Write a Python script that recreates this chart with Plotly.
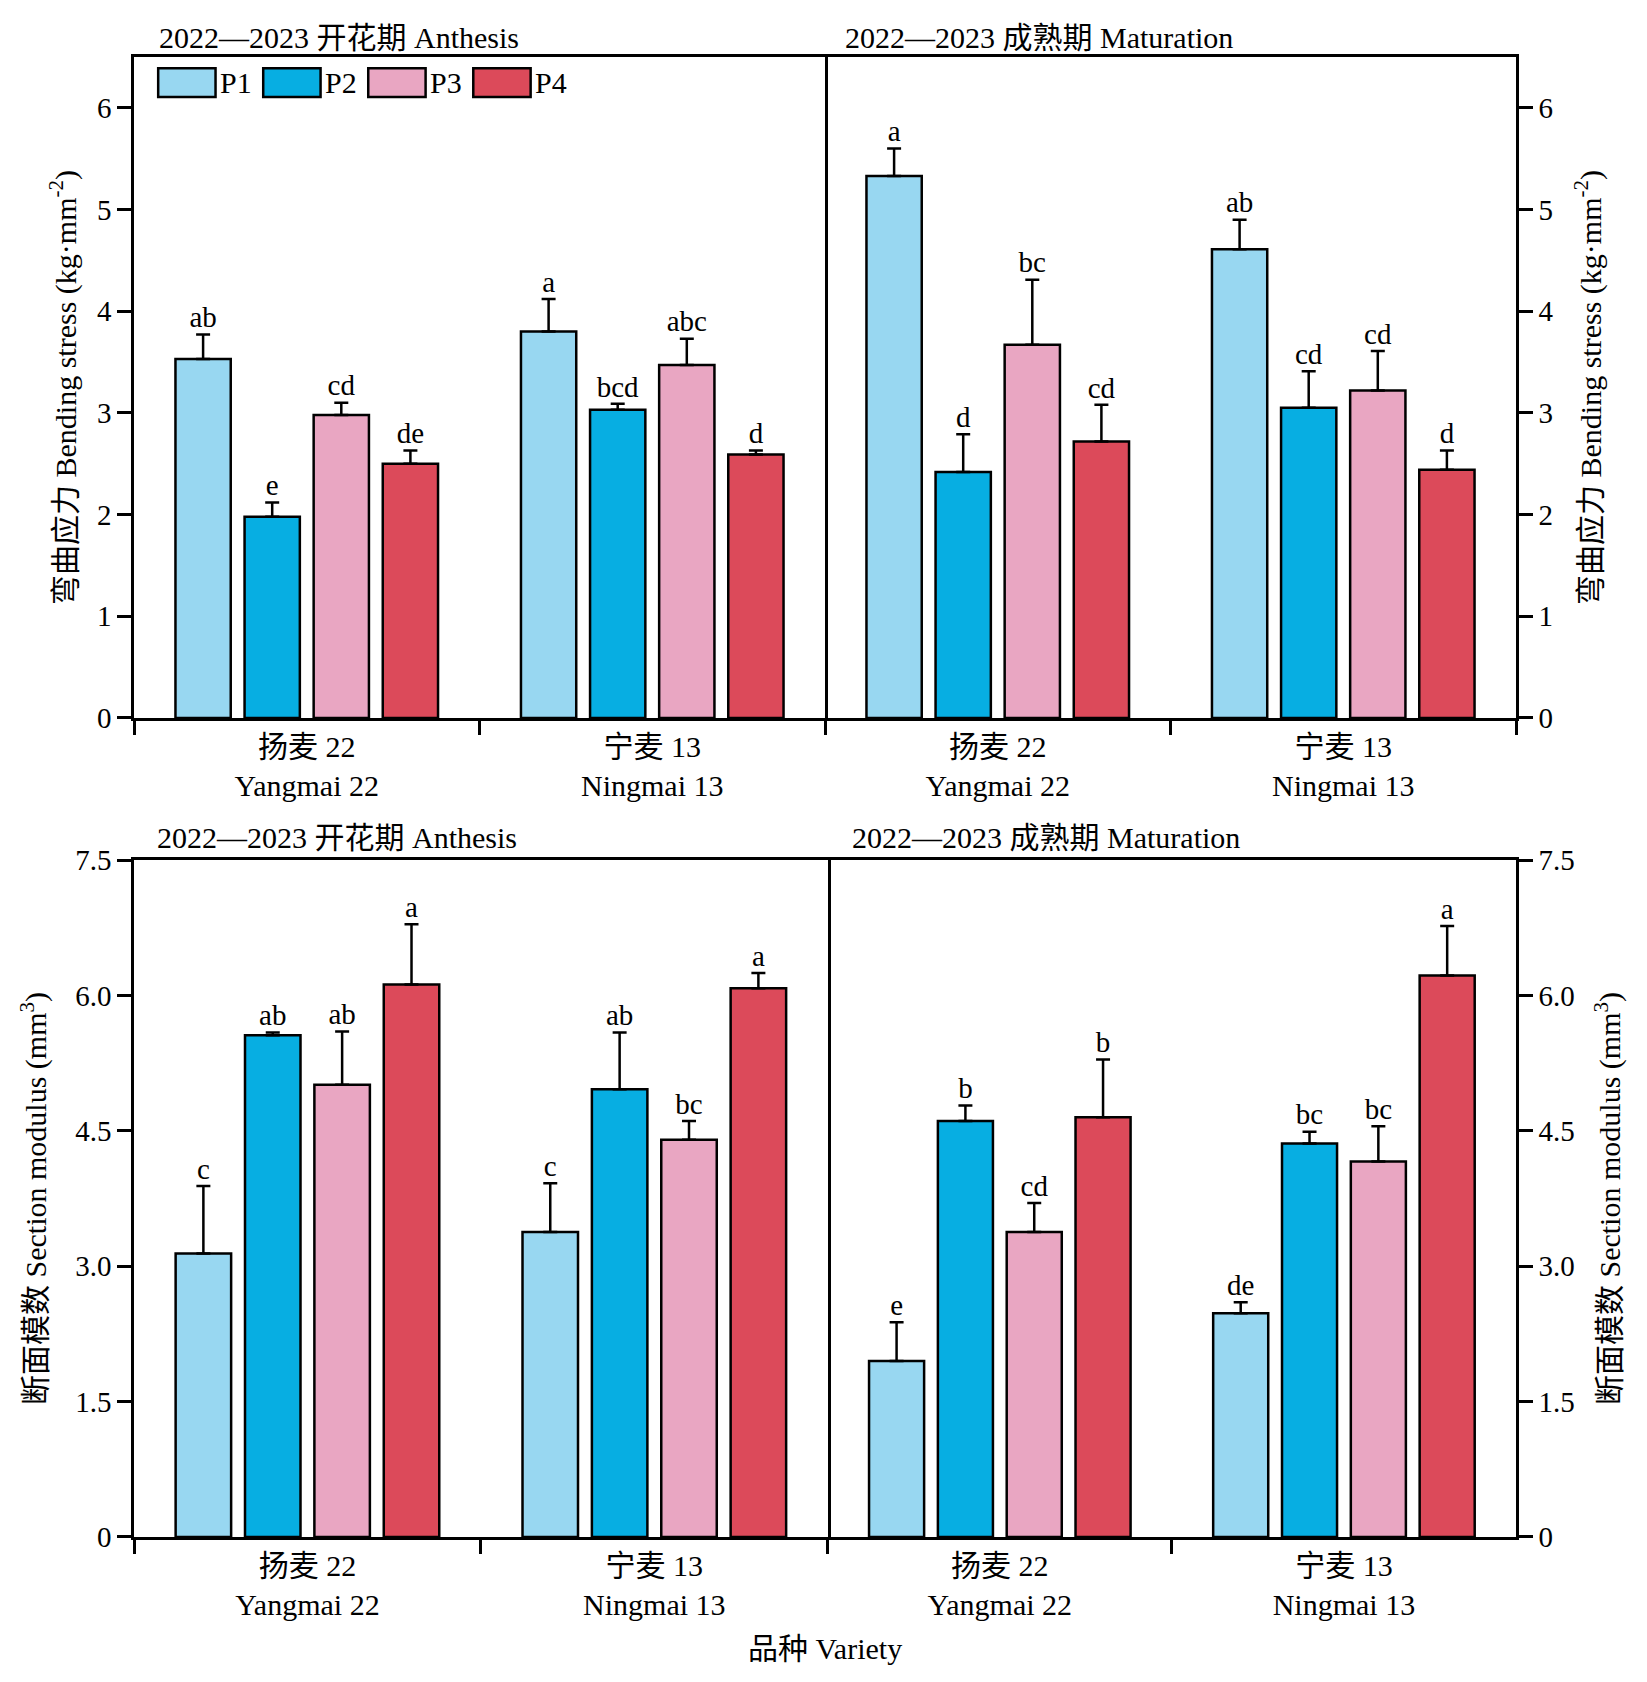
import plotly.graph_objects as go
from plotly.subplots import make_subplots

varieties = ["扬麦 22<br>Yangmai 22", "宁麦 13<br>Ningmai 13"]
treatments = ["P1", "P2", "P3", "P4"]
colors = ["#98D7F1", "#07AEE2", "#E9A6C2", "#DC4A5A"]

# rows = P1..P4, columns = 扬麦 22, 宁麦 13
# 弯曲应力 Bending stress, 开花期
bs_anth = [[3.53, 3.80], [1.98, 3.03], [2.98, 3.47], [2.50, 2.59]]
bs_anth_err = [[0.24, 0.32], [0.14, 0.06], [0.12, 0.26], [0.13, 0.04]]
bs_anth_sig = [["ab", "a"], ["e", "bcd"], ["cd", "abc"], ["de", "d"]]
# 弯曲应力 Bending stress, 成熟期
bs_mat = [[5.33, 4.61], [2.42, 3.05], [3.67, 3.22], [2.72, 2.44]]
bs_mat_err = [[0.27, 0.29], [0.37, 0.36], [0.64, 0.39], [0.36, 0.19]]
bs_mat_sig = [["a", "ab"], ["d", "cd"], ["bc", "cd"], ["cd", "d"]]
# 断面模数 Section modulus, 开花期
sm_anth = [[3.14, 3.38], [5.56, 4.96], [5.01, 4.40], [6.12, 6.08]]
sm_anth_err = [[0.75, 0.54], [0.03, 0.63], [0.59, 0.21], [0.67, 0.17]]
sm_anth_sig = [["c", "c"], ["ab", "ab"], ["ab", "bc"], ["a", "a"]]
# 断面模数 Section modulus, 成熟期
sm_mat = [[1.95, 2.48], [4.61, 4.36], [3.38, 4.16], [4.65, 6.22]]
sm_mat_err = [[0.43, 0.12], [0.17, 0.13], [0.32, 0.39], [0.64, 0.55]]
sm_mat_sig = [["e", "de"], ["b", "bc"], ["cd", "bc"], ["b", "a"]]

FONT = "Liberation Serif, Noto Sans CJK SC, serif"
FS = 30      # titles, category labels
FS_TICK = 29
FS_SIG = 29

panels = [
    (1, 1, bs_anth, bs_anth_err, bs_anth_sig, "2022—2023 开花期 Anthesis"),
    (1, 2, bs_mat, bs_mat_err, bs_mat_sig, "2022—2023 成熟期 Maturation"),
    (2, 1, sm_anth, sm_anth_err, sm_anth_sig, "2022—2023 开花期 Anthesis"),
    (2, 2, sm_mat, sm_mat_err, sm_mat_sig, "2022—2023 成熟期 Maturation"),
]

fig = make_subplots(rows=2, cols=2, horizontal_spacing=0)

for row, col, mean, err, sig, title in panels:
    for i, t in enumerate(treatments):
        fig.add_trace(go.Bar(
            x=varieties, y=mean[i], name=t, offsetgroup=t, showlegend=False,
            marker=dict(color=colors[i], line=dict(color="black", width=2.5)),
            error_y=dict(type="data", array=err[i], arrayminus=[0] * len(err[i]),
                         symmetric=False, color="black", thickness=2.5, width=7)),
            row=row, col=col)
        fig.add_trace(go.Scatter(
            x=varieties, y=[m + e for m, e in zip(mean[i], err[i])],
            mode="text", text=sig[i], textposition="top center", offsetgroup=t,
            textfont=dict(family=FONT, size=FS_SIG, color="black"),
            showlegend=False, cliponaxis=False, hoverinfo="skip"),
            row=row, col=col)

# axes (page body adds 8 px, so the figure is 8 px smaller and margins shifted)
xdom = {1: [[0, 0.5], [0.5, 1]], 2: [[0, 0.502], [0.502, 1]]}
ydom = {1: [0.5534, 1], 2: [0, 0.4574]}
standoffs = {(1, 1): 12, (1, 2): 28, (2, 1): 20, (2, 2): 26}
tick_font = dict(family=FONT, size=FS_TICK, color="black")
label_font = dict(family=FONT, size=FS, color="black")
for row in (1, 2):
    for col in (1, 2):
        fig.update_xaxes(domain=xdom[row][col - 1], showline=True, linecolor="black",
                         linewidth=3, mirror=True, ticks="outside", tickson="boundaries",
                         ticklen=14, tickwidth=3, tickcolor="black", tickfont=label_font,
                         showgrid=False, row=row, col=col)
        side = "left" if col == 1 else "right"
        if row == 1:
            ytitle = "弯曲应力 Bending stress (kg·mm<sup>-2</sup>)"
            yrange = [0, 6.5]
            tv = [0, 1, 2, 3, 4, 5, 6]
            tt = ["0", "1", "2", "3", "4", "5", "6"]
        else:
            ytitle = "断面模数 Section modulus (mm<sup>3</sup>)"
            yrange = [0, 7.5]
            tv = [0, 1.5, 3, 4.5, 6, 7.5]
            tt = ["0", "1.5", "3.0", "4.5", "6.0", "7.5"]
        fig.update_yaxes(domain=ydom[row], range=yrange, side=side, showline=True,
                         linecolor="black", linewidth=2.5, mirror=(col == 1),
                         ticks="outside", ticklen=14, tickwidth=3, tickcolor="black",
                         tickvals=tv, ticktext=tt, tickfont=tick_font, showgrid=False,
                         zeroline=False,
                         title=dict(text=ytitle, font=label_font,
                                    standoff=standoffs[(row, col)]),
                         row=row, col=col)

# panel titles
annotations = []
title_pos = {(1, 1): ("x domain", "y domain", 0.033, 20),
             (1, 2): ("x2 domain", "y2 domain", 0.026, 20),
             (2, 1): ("x3 domain", "y3 domain", 0.030, 23),
             (2, 2): ("x4 domain", "y4 domain", 0.032, 23)}
for row, col, mean, err, sig, title in panels:
    xr, yr, xx, ys = title_pos[(row, col)]
    annotations.append(dict(text=title, xref=xr, yref=yr, x=xx, y=1, xanchor="left",
                            yanchor="middle", yshift=ys, showarrow=False, font=label_font))

# x axis title
annotations.append(dict(text="品种 Variety", xref="paper", yref="paper", x=0.5, y=-0.075,
                        xanchor="center", yanchor="middle", showarrow=False,
                        font=label_font))

# legend drawn as boxes in the top-left panel
shapes = []
for i, t in enumerate(treatments):
    x0 = 0.035 + i * 0.152
    x1 = x0 + 0.083
    shapes.append(dict(type="rect", xref="x domain", yref="y domain", x0=x0, x1=x1,
                       y0=0.9395, y1=0.983, fillcolor=colors[i],
                       line=dict(color="black", width=2.5)))
    annotations.append(dict(text=t, xref="x domain", yref="y domain", x=x1 + 0.003,
                            y=0.961, xanchor="left", yanchor="middle", showarrow=False,
                            font=label_font))

fig.update_layout(
    width=1639, height=1674,
    margin=dict(l=126, r=131, t=49, b=145),
    paper_bgcolor="white", plot_bgcolor="white",
    barmode="group", bargap=0.2, bargroupgap=0.2,
    scattermode="group", scattergap=0.2,
    font=dict(family=FONT, size=FS, color="black"),
    annotations=annotations, shapes=shapes,
)

fig.write_html("out.html")
